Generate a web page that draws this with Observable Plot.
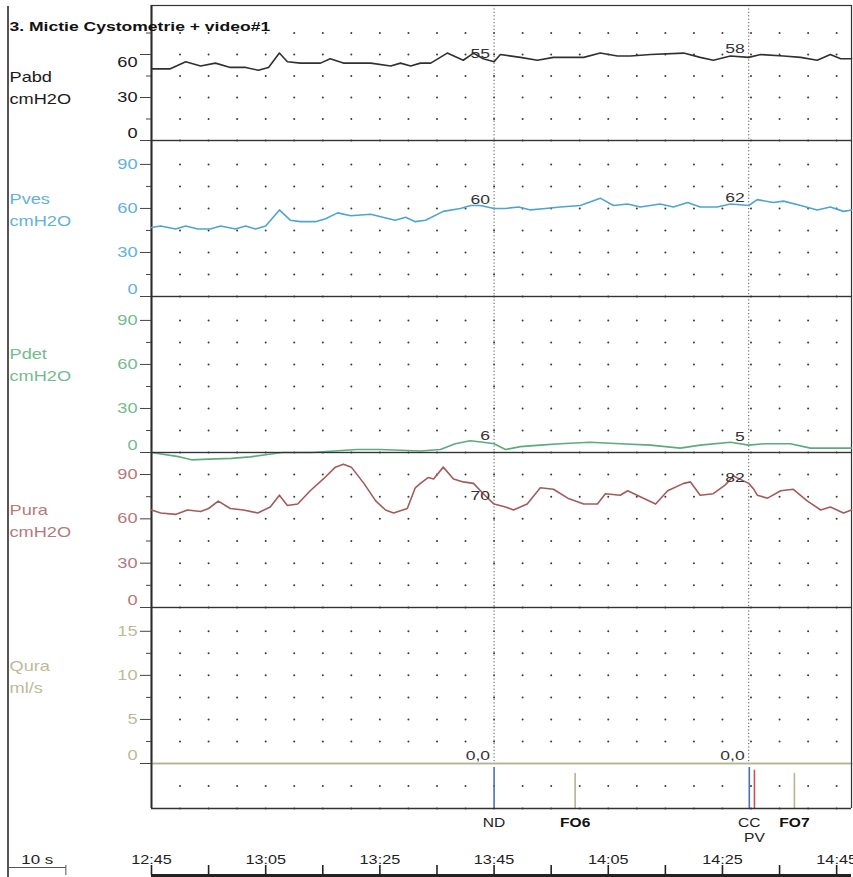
<!DOCTYPE html>
<html>
<head>
<meta charset="utf-8">
<script src="https://cdn.jsdelivr.net/npm/d3@7"></script>
<script src="https://cdn.jsdelivr.net/npm/@observablehq/plot@0.6"></script>
<style>
  html, body { margin: 0; padding: 0; background: #fff; }
  #chart { position: relative; width: 853px; height: 877px; overflow: hidden; background: #fff;
           font-family: "Liberation Sans", Arial, sans-serif; }
  #chart svg { position: absolute; left: 0; }
  #outer { position: absolute; left: 7px; top: 6px; bottom: 0; width: 1.5px; background: #555; }
</style>
</head>
<body>
<div id="chart"><div id="outer"></div></div>
<script>
// ---------------- DATA ----------------
const startSeconds = 12 * 60 + 45;      // 12:45
const endT = 122.6;                     // seconds shown
const cursorTimes = [60, 104.6];

const pabdT = [0,3.3,6,8.6,11.2,13.8,16.5,18.7,20.5,22.4,23.8,26.1,29.6,31.3,33.6,38.4,41.9,43.6,45.4,47.1,48.9,51.8,54.6,56.4,58.1,60,61.1,64.6,67.6,70.4,75.7,78.6,81.6,83.9,87.4,93.2,96.1,98.4,101.4,104.6,106.7,110.7,113.7,116.6,118.9,120.7,122.6];
const pabdV = [50,50,55,52,54,51,51,49,51,61,55,54,54,57,54,54,52,54,52,54,54,61,56,61,57,55,60,58,56,58,58,61,59,59,60,61,58,56,59,58,60,59,58,56,60,57,57];

const pvesT = [0,1.6,4.2,6,8.1,10.3,12.1,14.7,16.5,18.2,20,22.4,24.3,26.1,28.7,30.5,32.6,34.9,38.4,40.5,42.7,44.5,46.2,48,51.1,54.1,55.9,57.6,60,62,64.3,66.4,69,71.6,75.1,78.6,80.9,83.4,85.6,89.1,91.4,93.9,96.1,99.1,101.4,104.6,106.1,108.9,110.7,113.7,116.6,118.9,121.2,122.6];
const pvesV = [47,48,46,48,46,46,48,46,48,46,48,59,52,51,51,53,57,55,56,54,52,54,51,52,58,60,62,62,60,60,61,59,60,61,62,67,62,63,61,63,61,64,61,61,63,62,66,64,65,62,59,61,58,59];

const pdetT = [0,5,7,10,14,17.3,20,23,28,32,36,40,43.6,47.1,50.6,53.2,55.8,58.1,60,62,64.6,68.1,71.6,76.8,82.1,87.4,92.6,96.1,101.4,104.6,107.5,111.9,115.4,118.9,122.6];
const pdetV = [0,-3,-5,-4.5,-4,-3,-1.5,0,0,1,2,2,1.5,1,2,6,8,7,6,2,4,5,6,7,6,5,3,5,7,5,6,6,3,3,3];

const puraT = [0,1.6,4.2,6.3,8.6,10,11.7,13.8,16.1,18.6,20.8,22.4,23.8,25.6,27.8,30.1,32.2,33.6,35,37.2,39.3,41,42.4,44.8,46.2,47.1,48.5,49.4,51.1,52.9,54.6,56.4,58.1,60,62,63.4,65.8,68.1,70.4,72.9,75.7,78.1,79.5,82.1,83.4,85.6,88.3,90.4,93.2,94.4,96.1,98.4,100.5,101.9,104.6,105.5,106.1,107.9,110.2,112.4,114.9,117.2,118.9,121.2,122.6];
const puraV = [66,64,63,66,65,67,72,67,66,64,68,76,69,70,79,87,95,97,95,84,72,66,64,67,81,84,88,87,95,87,85,84,77,70,68,66,70,81,80,74,70,70,77,76,79,75,70,79,84,85,76,77,83,89,84,80,76,74,79,80,72,66,68,64,66];

const quraT = [0, 122.6];
const quraV = [0, 0];

const pabdNotes = ["55", "58"];   const pabdNoteValues = [55, 58];
const pvesNotes = ["60", "62"];   const pvesNoteValues = [60, 62];
const pdetNotes = ["6", "5"];     const pdetNoteValues = [6, 5];
const puraNotes = ["70", "82"];   const puraNoteValues = [70, 82];
const quraNotes = ["0,0", "0,0"]; const quraNoteValues = [0, 0];

const eventNames = ["ND", "FO6", "CC", "PV", "FO7"];
const eventTimes = [60, 74.2, 104.7, 105.6, 112.6];

const timeTicks = [0,10,20,30,40,50,60,70,80,90,100,110,120];
const timeLabelTicks = [0,20,40,60,80,100,120];
const gridCols = [5,10,15,20,25,30,35,40,45,50,55,60,65,70,75,80,85,90,95,100,105,110,115,120];

// ---------------- LAYOUT / STYLE ----------------
const W = 853, ML = 151, MR = 2;
const FONT = "'Liberation Sans', Arial, sans-serif";
const panels = [
  {name: "Pabd", unit: "cmH2O", t: pabdT, v: pabdV, notes: pabdNotes, noteValues: pabdNoteValues,
   top: 5, bottom: 140, yMax: 94.2, major: [0,30,60], minor: [15,45,75], rows: [0,15,30,45,60,75],
   stroke: "#303030", text: "#1a1a1a", labelDy: {0: -7, 60: 8}, nameY: 80.5, title: true},
  {name: "Pves", unit: "cmH2O", t: pvesT, v: pvesV, notes: pvesNotes, noteValues: pvesNoteValues,
   top: 140, bottom: 296, yMax: 106.3, major: [0,30,60,90], minor: [15,45,75], rows: [0,15,30,45,60,75,90],
   stroke: "#4ea5cf", text: "#62b1dc", labelDy: {0: -7}, nameY: 67.5},
  {name: "Pdet", unit: "cmH2O", t: pdetT, v: pdetV, notes: pdetNotes, noteValues: pdetNoteValues,
   top: 296, bottom: 452, yMax: 106.3, major: [0,30,60,90], minor: [15,45,75], rows: [0,15,30,45,60,75,90],
   stroke: "#5dab7c", text: "#74bb90", labelDy: {0: -7}, nameY: 66.5},
  {name: "Pura", unit: "cmH2O", t: puraT, v: puraV, notes: puraNotes, noteValues: puraNoteValues,
   top: 452, bottom: 607, yMax: 104.9, major: [0,30,60,90], minor: [15,45,75], rows: [0,15,30,45,60,75,90],
   stroke: "#a45a5c", text: "#b57a7c", labelDy: {0: -7}, nameY: 66.5},
  {name: "Qura", unit: "ml/s", t: quraT, v: quraV, notes: quraNotes, noteValues: quraNoteValues,
   top: 607, bottom: 763, yMax: 17.7, major: [0,5,10,15], minor: [2.5,7.5,12.5], rows: [2.5,5,7.5,10,12.5,15],
   stroke: "#b7b48c", text: "#bcbb98", labelDy: {0: -8}, nameY: 67, traceWidth: 1.7}
];
const eventStyle = {
  ND: {color: "#4a70b5", top: 0.91, row: 1, bold: false},
  FO6: {color: "#b9b292", top: 0.78, row: 1, bold: true},
  CC: {color: "#4a70b5", top: 0.91, row: 1, bold: false},
  PV: {color: "#c9524c", top: 0.85, row: 2, bold: false},
  FO7: {color: "#b9b292", top: 0.78, row: 1, bold: true}
};
const fmtTime = t => {
  const s = Math.round(startSeconds + t);
  return `${Math.floor(s / 60)}:${String(s % 60).padStart(2, "0")}`;
};

const chart = document.getElementById("chart");
function place(svg, top) {
  svg.style.top = top + "px";
  chart.appendChild(svg);
}
const baseStyle = {background: "transparent", overflow: "visible", fontFamily: FONT};

// ---------------- PANELS ----------------
for (const p of panels) {
  const series = p.t.map((t, i) => ({t, v: p.v[i]}));
  const grid = [];
  for (const c of gridCols) for (const r of p.rows) grid.push({t: c, v: r});
  const notes = cursorTimes.map((c, i) => ({t: c, v: p.noteValues[i], label: p.notes[i]}));
  const marks = [
    Plot.dot(grid, {x: "t", y: "v", r: 1, fill: "#3a3a3a", stroke: null}),
    Plot.ruleX(cursorTimes, {stroke: "#555", strokeWidth: 1, strokeDasharray: "1.2,2.2"}),
    Plot.frame({stroke: "#333", strokeWidth: 1.2}),
    Plot.ruleX([0], {stroke: "#2a2a2a", strokeWidth: 2}),
    Plot.axisY(p.major, {anchor: "left", tickSize: 11, tickFormat: () => "", stroke: "#444", label: null}),
    Plot.axisY(p.minor, {anchor: "left", tickSize: 5, tickFormat: () => "", stroke: "#444", label: null}),
    ...p.major.map(m => Plot.text([m], {
      y: d => d, text: d => String(d), frameAnchor: "left", dx: -14, dy: p.labelDy[m] || 0,
      textAnchor: "end", lineAnchor: "middle", fill: p.text, fontSize: 14
    })),
    Plot.text([`${p.name}\n${p.unit}`], {
      text: d => d, frameAnchor: "top-left", dx: -142, dy: p.nameY, textAnchor: "start",
      lineAnchor: "middle", lineHeight: 1.57, fill: p.text, fontSize: 14
    }),
    Plot.line(series, {x: "t", y: "v", stroke: p.stroke, strokeWidth: p.traceWidth || 1.6}),
    Plot.text(notes, {x: "t", y: "v", text: "label", textAnchor: "end", lineAnchor: "bottom",
      dx: -4, dy: -4, fill: "#333", fontSize: 13.5})
  ];
  if (p.title) {
    marks.push(Plot.text(["3. Mictie Cystometrie + video#1"], {
      text: d => d, frameAnchor: "top-left", dx: -142, dy: 21, textAnchor: "start",
      lineAnchor: "middle", fontWeight: "bold", fontSize: 13.5, fill: "#111"
    }));
  }
  const svg = Plot.plot({
    width: W, height: p.bottom - p.top,
    marginLeft: ML, marginRight: MR, marginTop: 0, marginBottom: 0,
    x: {domain: [0, endT], axis: null},
    y: {domain: [0, p.yMax], axis: null, label: null},
    style: baseStyle,
    marks
  });
  place(svg, p.top);
}

// ---------------- EVENT STRIP ----------------
{
  const events = eventNames.map((n, i) => ({name: n, t: eventTimes[i], ...eventStyle[n]}));
  const stripGrid = [];
  for (const c of gridCols) for (const r of [0, 0.5]) stripGrid.push({t: c, v: r});
  const svg = Plot.plot({
    width: W, height: 45 + 45,
    marginLeft: ML, marginRight: MR, marginTop: 0, marginBottom: 45,
    x: {domain: [0, endT], axis: null},
    y: {domain: [0, 1], axis: null},
    style: baseStyle,
    marks: [
      Plot.dot(stripGrid, {x: "t", y: "v", r: 1, fill: "#3a3a3a", stroke: null}),
      Plot.ruleX(events, {x: "t", y1: 0, y2: "top", stroke: "color", strokeWidth: 1.6}),
      Plot.ruleY([0], {stroke: "#333", strokeWidth: 1.5}),
      Plot.ruleX([0], {stroke: "#2a2a2a", strokeWidth: 2}),
      Plot.ruleX([endT], {stroke: "#333", strokeWidth: 1.2}),
      Plot.text(events.filter(d => d.row === 1 && !d.bold), {x: "t", text: "name", frameAnchor: "bottom",
        dy: 15, lineAnchor: "middle", fill: "#222", fontSize: 12}),
      Plot.text(events.filter(d => d.row === 1 && d.bold), {x: "t", text: "name", frameAnchor: "bottom",
        dy: 15, lineAnchor: "middle", fill: "#111", fontSize: 12, fontWeight: "bold"}),
      Plot.text(events.filter(d => d.row === 2), {x: "t", text: "name", frameAnchor: "bottom",
        dy: 30, lineAnchor: "middle", fill: "#222", fontSize: 12})
    ]
  });
  place(svg, 763);
}

// ---------------- TIME AXIS ----------------
{
  const scaleBarStart = -25;   // left end of the "10 s" scale bar (seconds)
  const svg = Plot.plot({
    width: W, height: 69,
    marginLeft: ML, marginRight: MR, marginTop: 57, marginBottom: 2,
    x: {domain: [0, endT], axis: null},
    y: {domain: [0, 1], axis: null},
    style: baseStyle,
    marks: [
      Plot.ruleX(timeTicks, {stroke: "#222", strokeWidth: 1.6}),
      Plot.ruleY([0], {stroke: "#222", strokeWidth: 3}),
      Plot.text(timeLabelTicks, {x: d => d, text: fmtTime, frameAnchor: "top", dy: -6,
        lineAnchor: "middle", fill: "#222", fontSize: 12.5}),
      Plot.link([scaleBarStart], {x1: d => d, x2: d => d + 10, y1: 0.8, y2: 0.8, stroke: "#555", strokeWidth: 1}),
      Plot.ruleX([scaleBarStart + 10], {y1: 0, y2: 1, stroke: "#555", strokeWidth: 1}),
      Plot.text(["10 s"], {x: scaleBarStart + 5, text: d => d, frameAnchor: "top", dy: -6,
        lineAnchor: "middle", fill: "#222", fontSize: 13})
    ]
  });
  place(svg, 808);
}

// widen the lettering like the reference print
document.querySelectorAll("#chart svg text").forEach(el => {
  const tr = el.getAttribute("transform");
  if (tr && tr.startsWith("translate") && !el.hasAttribute("x")) {
    el.setAttribute("transform", tr + " scale(1.3,1)");
  }
});
</script>
</body>
</html>
